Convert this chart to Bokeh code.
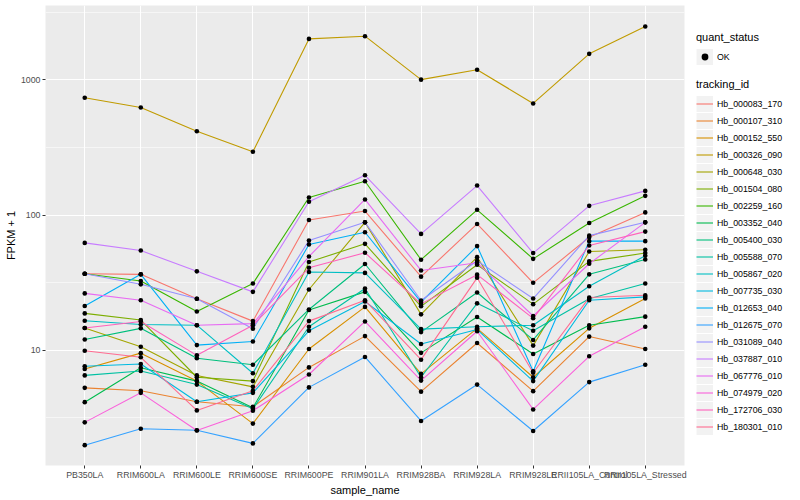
from bokeh.plotting import figure
from bokeh.layouts import row
from bokeh.models import FactorRange, Range1d, FixedTicker, Legend, LegendItem, ColumnDataSource, PrintfTickFormatter
from bokeh.embed import file_html
from bokeh.resources import INLINE

samples = ["PB350LA", "RRIM600LA", "RRIM600LE", "RRIM600SE", "RRIM600PE", "RRIM901LA",
           "RRIM928BA", "RRIM928LA", "RRIM928LE", "RRII105LA_Control", "RRII105LA_Stressed"]

tracking_ids = ["Hb_000083_170", "Hb_000107_310", "Hb_000152_550", "Hb_000326_090", "Hb_000648_030",
                "Hb_001504_080", "Hb_002259_160", "Hb_003352_040", "Hb_005400_030", "Hb_005588_070",
                "Hb_005867_020", "Hb_007735_030", "Hb_012653_040", "Hb_012675_070", "Hb_031089_040",
                "Hb_037887_010", "Hb_067776_010", "Hb_074979_020", "Hb_172706_030", "Hb_180301_010"]

colors = ["#F8766D", "#EA8331", "#D89000", "#C09B00", "#A3A500", "#7CAE00", "#39B600", "#00BB4E",
          "#00BF7D", "#00C1A3", "#00BFC4", "#00BAE0", "#00B0F6", "#35A2FF", "#9590FF", "#C77CFF",
          "#E76BF3", "#FA62DB", "#FF62BC", "#FF6C91"]

# FPKM + 1 per sample
hb_000083_170 = [36.8, 36.4, 24.0, 16.4, 91.9, 107.0, 35.0, 85.9, 31.5, 68.5, 104.6]
hb_000107_310 = [5.26, 5.0, 4.15, 3.81, 7.45, 12.7, 4.93, 11.3, 4.97, 12.6, 10.2]
hb_000152_550 = [7.25, 9.5, 5.9, 2.86, 10.2, 20.9, 6.67, 14.5, 6.3, 14.5, 24.1]
hb_000326_090 = [738, 625, 417, 294, 2013, 2108, 1005, 1191, 670, 1560, 2484]
hb_000648_030 = [14.6, 10.6, 6.5, 5.35, 28.1, 88.3, 18.4, 48.8, 10.8, 53.7, 55.3]
hb_001504_080 = [18.7, 16.7, 6.3, 5.9, 44.9, 61.2, 21.1, 42.9, 21.9, 45.4, 52.3]
hb_002259_160 = [36.8, 32.5, 19.3, 31.1, 135.0, 177.8, 46.7, 109.3, 47.4, 87.3, 138.7]
hb_003352_040 = [4.12, 7.4, 5.9, 3.75, 19.8, 27.0, 9.55, 17.6, 9.35, 15.3, 17.7]
hb_005400_030 = [12.0, 14.5, 8.7, 7.8, 20.0, 43.4, 13.6, 26.7, 11.9, 36.4, 46.9]
hb_005588_070 = [6.5, 7.0, 5.56, 3.68, 14.9, 28.6, 6.3, 22.2, 13.9, 24.0, 31.1]
hb_005867_020 = [16.5, 15.5, 15.3, 6.74, 37.9, 37.3, 14.3, 14.9, 15.3, 29.7, 50.0]
hb_007735_030 = [7.6, 7.9, 4.15, 4.83, 13.9, 22.9, 11.1, 14.2, 5.9, 23.4, 24.8]
hb_012653_040 = [21.2, 36.4, 10.9, 11.6, 60.5, 74.6, 22.7, 58.9, 6.97, 64.1, 64.1]
hb_012675_070 = [1.98, 2.62, 2.55, 2.04, 5.3, 8.9, 2.99, 5.56, 2.52, 5.8, 7.8]
hb_031089_040 = [36.8, 30.7, 24.0, 14.4, 64.7, 88.3, 23.3, 45.9, 24.1, 70.4, 88.3]
hb_037887_010 = [62.2, 54.6, 38.3, 27.0, 125.3, 196.8, 72.5, 165.3, 52.3, 117.0, 150.9]
hb_067776_010 = [26.3, 23.4, 15.3, 15.7, 49.3, 130.4, 38.9, 44.4, 17.9, 43.6, 88.3]
hb_074979_020 = [2.92, 4.83, 2.54, 3.56, 6.6, 16.3, 5.95, 13.8, 3.64, 9.0, 14.9]
hb_172706_030 = [14.6, 16.3, 9.15, 15.3, 40.7, 52.6, 22.0, 36.2, 17.2, 59.5, 75.4]
hb_180301_010 = [9.9, 8.85, 3.58, 5.0, 16.4, 23.4, 8.5, 34.3, 6.8, 24.5, 25.5]

series = [hb_000083_170, hb_000107_310, hb_000152_550, hb_000326_090, hb_000648_030,
          hb_001504_080, hb_002259_160, hb_003352_040, hb_005400_030, hb_005588_070,
          hb_005867_020, hb_007735_030, hb_012653_040, hb_012675_070, hb_031089_040,
          hb_037887_010, hb_067776_010, hb_074979_020, hb_172706_030, hb_180301_010]

y_ticks = [10, 100, 1000]
y_minor = [10 ** 0.5, 10 ** 1.5, 10 ** 2.5, 10 ** 3.5]

FONT = "Liberation Sans"
H = 498

p = figure(width=690, height=H,
           x_range=FactorRange(factors=samples, range_padding=0.2, range_padding_units="absolute"),
           y_axis_type="log", y_range=Range1d(1.40, 3556),
           output_backend="svg", toolbar_location=None,
           min_border_left=45, min_border_right=6, min_border_top=5, min_border_bottom=30)

p.background_fill_color = "#EBEBEB"
p.border_fill_color = "white"
p.outline_line_color = None

ticker = FixedTicker(ticks=y_ticks, minor_ticks=y_minor)
p.yaxis.ticker = ticker
p.ygrid.ticker = ticker
p.yaxis.formatter = PrintfTickFormatter(format="%d")

p.xgrid.grid_line_color = "white"
p.xgrid.grid_line_width = 1.1
p.ygrid.grid_line_color = "white"
p.ygrid.grid_line_width = 1.1
p.ygrid.minor_grid_line_color = "white"
p.ygrid.minor_grid_line_width = 0.55

for ax in (p.xaxis[0], p.yaxis[0]):
    ax.axis_line_color = None
    ax.major_tick_line_color = "#333333"
    ax.major_tick_out = 3
    ax.major_tick_in = 0
    ax.minor_tick_line_color = None
    ax.major_label_text_color = "#4D4D4D"
    ax.major_label_text_font_size = "8.8px"
    ax.major_label_text_font = FONT
    ax.major_label_standoff = 1
    ax.axis_label_text_font = FONT
    ax.axis_label_text_font_size = "11px"
    ax.axis_label_text_font_style = "normal"
    ax.axis_label_text_color = "black"
    ax.axis_label_standoff = 1

p.xaxis.axis_label = "sample_name"
p.yaxis.axis_label = "FPKM + 1"

for vals, col in zip(series, colors):
    p.line(x=samples, y=vals, line_color=col, line_width=1.1)

pts_x, pts_y = [], []
for vals in series:
    pts_x.extend(samples)
    pts_y.extend(vals)
p.scatter(x="x", y="y", source=ColumnDataSource(dict(x=pts_x, y=pts_y)),
          size=4.6, fill_color="black", line_color=None)

# legend panel (key glyphs use off-screen dummy data)
lf = figure(width=108, height=H, x_range=Range1d(0, 1), y_range=Range1d(0, 1),
            output_backend="svg", toolbar_location=None,
            x_axis_location=None, y_axis_location=None,
            min_border_left=0, min_border_right=0, min_border_top=0, min_border_bottom=0)
lf.grid.visible = False
lf.outline_line_color = None
lf.background_fill_color = "white"
lf.border_fill_color = "white"

off_x = [5, 6]
off_y = [5, 6]
key_bg = lf.line(x=off_x, y=off_y, line_color="#F2F2F2", line_width=16)
key_pt = lf.scatter(x=off_x, y=off_y, fill_color="black", line_color=None)
key_lines = [lf.line(x=off_x, y=off_y, line_color=col, line_width=1.1) for col in colors]

leg1 = Legend(items=[LegendItem(label="OK", renderers=[key_bg, key_pt])],
              title="quant_status", location=(6, 400))
leg2 = Legend(items=[LegendItem(label=tid, renderers=[key_bg, r]) for tid, r in zip(tracking_ids, key_lines)],
              title="tracking_id", location=(6, 30))

for leg in (leg1, leg2):
    leg.background_fill_alpha = 0
    leg.border_line_color = None
    leg.padding = 0
    leg.margin = 0
    leg.spacing = 0
    leg.glyph_width = 17
    leg.glyph_height = 17
    leg.label_height = 17
    leg.label_standoff = 4
    leg.label_text_font = FONT
    leg.label_text_font_size = "8.8px"
    leg.label_text_color = "black"
    leg.title_text_font = FONT
    leg.title_text_font_size = "11px"
    leg.title_text_font_style = "normal"
    leg.title_text_color = "black"
    leg.title_standoff = 5
    lf.add_layout(leg, "center")

layout = row(p, lf)
open("out.html", "w").write(file_html(layout, INLINE))
